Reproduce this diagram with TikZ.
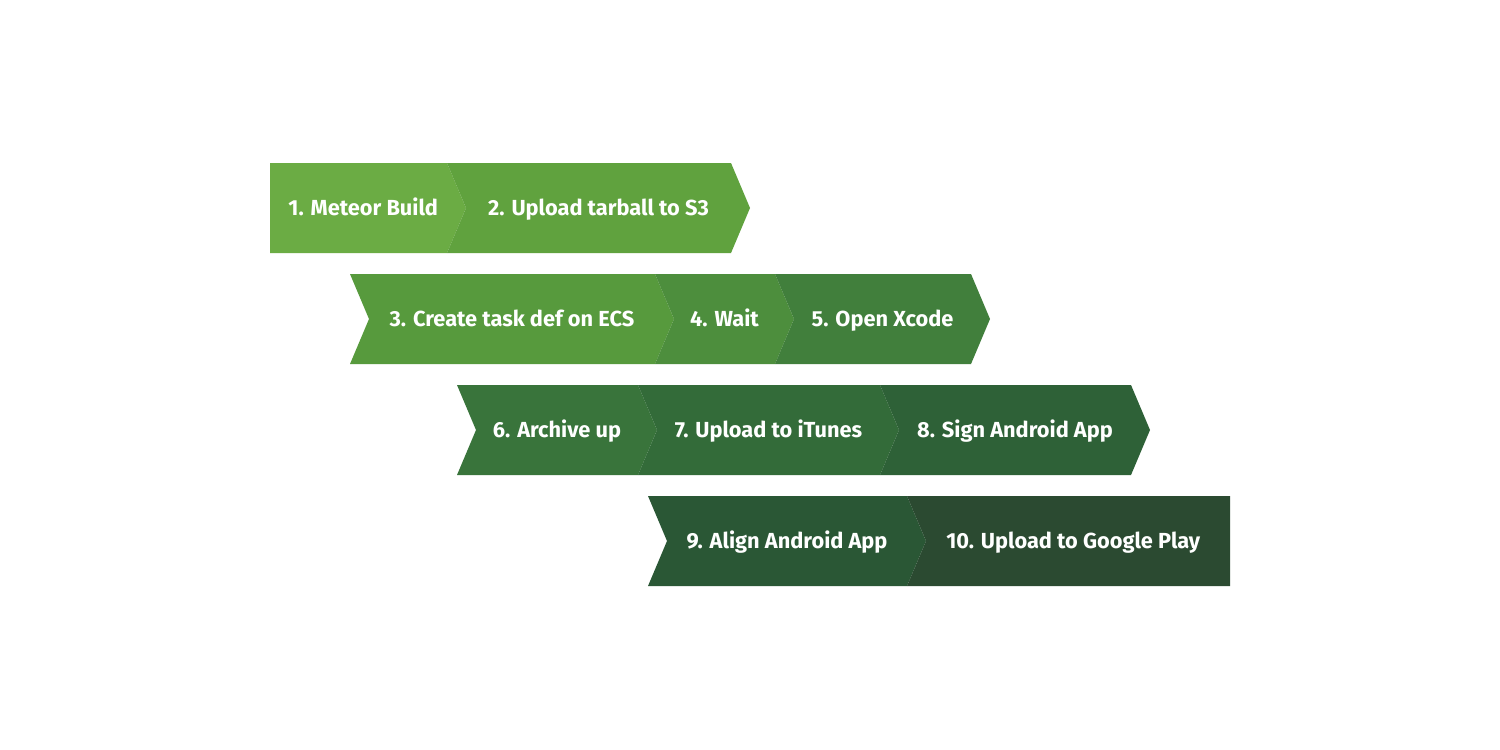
\documentclass[tikz,border=0pt]{standalone}
\usepackage{fontspec}
\setmainfont{Fira Sans}
\usetikzlibrary{positioning, calc}

\definecolor{c1}{HTML}{6BAC44}
\definecolor{c2}{HTML}{60A23E}
\definecolor{c3}{HTML}{579A3D}
\definecolor{c4}{HTML}{4D8E3D}
\definecolor{c5}{HTML}{417F3C}
\definecolor{c6}{HTML}{39743B}
\definecolor{c7}{HTML}{336B39}
\definecolor{c8}{HTML}{2E6137}
\definecolor{c9}{HTML}{2A5735}
\definecolor{c10}{HTML}{2B4A31}

\tikzset{
    lbl/.style={text=white, inner sep=0pt, text height=8.6pt, text depth=0pt,
        font=\bfseries\fontsize{12.4}{14}\selectfont},
}

\begin{document}
\begin{tikzpicture}[x=0.02cm, y=-0.02cm]
    \useasboundingbox[fill=white] (0,0) rectangle (1500,750);

    % number/left/right/top/notch/tip/text
    \foreach \n/\xl/\xr/\yt/\dl/\dr/\txt in {
        1/270/447/163/0/19/{1. Meteor Build},
        2/447/731/163/19/19/{2. Upload tarball to S3},
        3/350/655/274/19/19/{3. Create task def on ECS},
        4/655/775/274/19/19/{4. Wait},
        5/775/971/274/19/19/{5. Open Xcode},
        6/457/638/385/19/19/{6. Archive up},
        7/638/880/385/19/19/{7. Upload to iTunes},
        8/880/1131/385/19/19/{8. Sign Android App},
        9/648/907/496/19/19/{9. Align Android App},
        10/907/1230/496/19/0/{10. Upload to Google Play}}
    {
        \fill[c\n] (\xl,\yt) -- (\xr,\yt) -- (\xr+\dr,\yt+45) -- (\xr,\yt+90)
            -- (\xl,\yt+90) -- (\xl+\dl,\yt+45) -- cycle;
        \node[lbl] (s\n) at ({(\xl+\dl/2+\xr+\dr/2)/2}, \yt+45) {\txt};
    }
\end{tikzpicture}
\end{document}
